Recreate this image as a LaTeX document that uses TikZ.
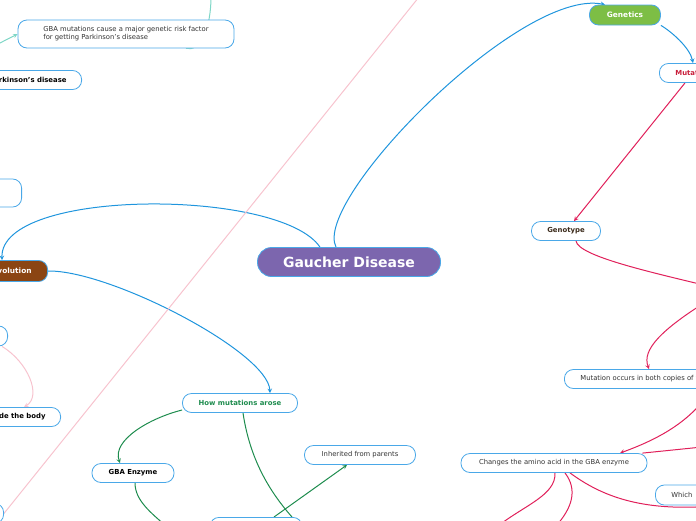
\documentclass[tikz,border=0pt]{standalone}
\usepackage{fontspec}
\setmainfont{DejaVu Sans}
\usetikzlibrary{backgrounds}
\definecolor{mapblue}{HTML}{1F95DD}
\definecolor{boxblue}{HTML}{4AA8E8}
\definecolor{txtgray}{HTML}{333333}
\definecolor{purp}{HTML}{7C66AE}
\definecolor{leaf}{HTML}{7DBE45}
\definecolor{bark}{HTML}{8B4513}
\definecolor{rose}{HTML}{E0205A}
\definecolor{moss}{HTML}{1E8C4E}
\definecolor{teal}{HTML}{7ED6C6}
\definecolor{blush}{HTML}{F7C3CE}
\definecolor{crimson}{HTML}{C81E3A}
\definecolor{umber}{HTML}{3B2A1A}

\begin{document}
\begin{tikzpicture}[x=1pt,y=-1pt,>=stealth,
  every node/.style={draw=boxblue,rounded corners=9pt,fill=white,line width=0.8pt,
    font=\fontsize{6.8}{8.2}\selectfont,text=txtgray,minimum height=19pt,inner xsep=14pt},
  keytopic/.style={font=\fontsize{6.9}{8}\selectfont\bfseries,text=black},
  maintopic/.style={font=\fontsize{7.4}{8}\selectfont\bfseries,text=white},
  link/.style={line width=1pt}]
\useasboundingbox (0,0) rectangle (696,520);

% centre and main branches
\node[fill=purp,rounded corners=14pt,minimum width=183pt,minimum height=29pt,
  font=\fontsize{14}{16}\selectfont\bfseries,text=white] (gaucher) at (349,262) {Gaucher Disease};
\node[maintopic,fill=leaf,minimum width=71pt,minimum height=20pt] (genetics) at (625,15) {Genetics};
\node[maintopic,fill=bark,anchor=east,minimum height=21pt,inner xsep=16pt] (evol) at (48,271) {Evolution};

% left side
\node[minimum width=216pt,minimum height=28pt,align=left] (risk) at (126,34)
  {GBA mutations cause a major genetic risk factor\\for getting Parkinson's disease};
\node[keytopic,anchor=east,inner xsep=15pt] (park) at (82,80) {Parkinson's disease};
\node[anchor=east,minimum width=60pt,minimum height=28pt] (blank1) at (22,193) {};
\node[anchor=east,minimum width=40pt,minimum height=20pt] (blank2) at (8,336) {};
\node[keytopic,anchor=east,inner xsep=15pt] (body) at (61,417) {Inside the body};
\node[anchor=north east,minimum width=40pt,minimum height=20pt] (blank3) at (4,503) {};
\node[keytopic,text=moss,minimum width=115pt] (arose) at (240,403) {How mutations arose};
\node[keytopic,minimum width=82pt] (enzyme) at (133,473) {GBA Enzyme};
\node[minimum width=111pt] (parents) at (360,455) {Inherited from parents};
\node[anchor=north,minimum width=92pt,minimum height=20pt] (lower) at (256,517) {};

% right side
\node[keytopic,text=crimson,anchor=west,inner xsep=16pt] (mutat) at (659,73) {Mutations};
\node[keytopic,text=umber,minimum width=69pt] (genotype) at (566,231) {Genotype};
\node[anchor=west,inner xsep=16pt] (copies) at (564,379) {Mutation occurs in both copies of the gene};
\node[minimum width=186pt] (amino) at (554,463) {Changes the amino acid in the GBA enzyme};
\node[anchor=west,text width=60pt,align=left,minimum height=20pt,inner xsep=16pt] (which) at (655,495) {Which};

% loose ends outside the frame
\coordinate (g1) at (712,287);
\coordinate (g2) at (712,298);
\coordinate (g3) at (712,388);
\coordinate (g4) at (712,446);
\coordinate (g5) at (498,526);
\coordinate (g6) at (556,526);
\coordinate (g7) at (712,506);
\coordinate (e1) at (166,526);
\coordinate (t1) at (211,-4);
\coordinate (t2) at (-4,45);
\coordinate (p1) at (419,-3);

\begin{scope}[on background layer]
\draw[link,mapblue,->] ([xshift=-13pt]gaucher.north) .. controls (312,200) and (520,-12) .. ([xshift=-20pt]genetics.north);
\draw[link,mapblue,->] (genetics.south east) .. controls (672,32) and (690,48) .. ([xshift=34pt]mutat.north west);
\draw[link,mapblue,->] ([xshift=-29pt]gaucher.north) .. controls (280,188) and (0,188) .. ([xshift=-10pt]evol.north);
\draw[link,mapblue,->] (evol.east) .. controls (110,270) and (268,352) .. ([xshift=30pt]arose.north);

\draw[link,rose,->] ([xshift=26pt]mutat.south west) -- ([xshift=8pt]genotype.north);
\draw[link,rose] ([xshift=10pt]genotype.south) .. controls (578,256) and (650,272) .. (g1);
\draw[link,rose,->] (g2) .. controls (660,330) and (642,350) .. ([xshift=85pt]copies.north west);
\draw[link,rose,->] (g3) .. controls (690,425) and (650,442) .. ([xshift=66pt]amino.north);
\draw[link,rose] ([xshift=-5pt]amino.north east) -- (g4);
\draw[link,rose] ([xshift=1pt]amino.south) .. controls (556,495) and (525,505) .. (g5);
\draw[link,rose] ([xshift=11pt]amino.south) .. controls (578,490) and (572,508) .. (g6);
\draw[link,rose] ([xshift=16pt]amino.south) .. controls (600,495) and (640,512) .. (g7);

\draw[link,moss,->] ([yshift=-7pt]arose.west) .. controls (150,418) and (112,440) .. ([xshift=-13pt]enzyme.north);
\draw[link,moss] ([xshift=3pt]arose.south) .. controls (250,460) and (270,492) .. ([xshift=36pt]lower.north);
\draw[link,moss,->] ([xshift=18pt]lower.north) -- ([xshift=-13pt]parents.south);
\draw[link,moss] ([xshift=2pt]enzyme.south) .. controls (135,500) and (150,512) .. (e1);

\draw[link,teal] (t1) .. controls (211,30) and (200,52) .. ([xshift=60pt]risk.south);
\draw[link,teal,->] (t2) -- (risk.west);

\draw[link,blush] (p1) -- (blank3.east);
\draw[link,blush,->] ([xshift=-6pt]blank2.south east) .. controls (28,362) and (42,396) .. ([xshift=-37pt]body.north east);
\end{scope}
\end{tikzpicture}
\end{document}
